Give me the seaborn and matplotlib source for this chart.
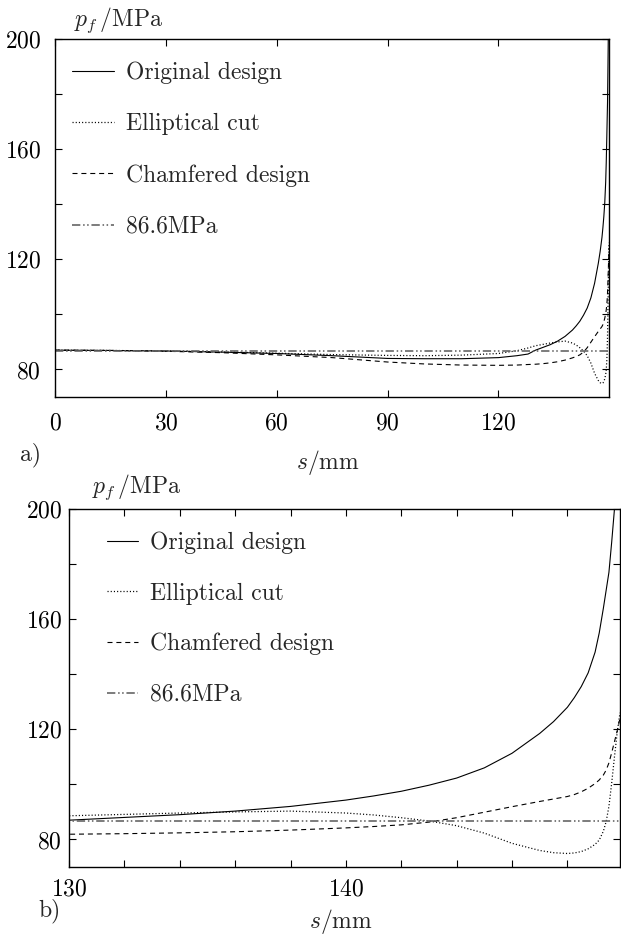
import numpy as np
import matplotlib
matplotlib.use("Agg")
import matplotlib.pyplot as plt
from matplotlib.ticker import MultipleLocator, FixedLocator
import seaborn as sns

# Arc length along the fillet surface (mm)
s_mm = [0, 15, 30, 45, 60, 75, 90, 100, 110, 120, 125, 128, 130, 132, 134, 136,
        138, 140, 141, 142, 143, 144, 145, 146, 147, 147.5, 148, 148.25, 148.5,
        148.75, 149, 149.15, 149.3, 149.4, 149.5, 149.6, 149.7, 149.8, 149.9]

# Fatigue pressure p_f (MPa) for each geometry
original_design = [87.0, 86.9, 86.7, 86.3, 85.8, 85.0, 84.0, 83.9, 83.9, 84.3, 85.0,
                   85.6, 87.0, 88.0, 89.0, 90.3, 92.0, 94.3, 95.8, 97.5, 99.7,
                   102.3, 106.0, 111.3, 118.5, 122.8, 128.0, 131.5, 135.5,
                   140.5, 148.0, 155.0, 164.0, 170.5, 177.0, 188.0, 200.0, 214.0, 230.0]
elliptical_cut = [87.0, 86.9, 86.7, 86.4, 85.9, 85.4, 85.1, 85.0, 85.2, 85.8, 86.8,
                  87.8, 88.6, 89.1, 89.6, 90.0, 90.3, 89.6, 88.9, 87.9, 86.7,
                  85.0, 82.3, 78.6, 76.0, 75.2, 74.9, 75.1, 75.6,
                  76.6, 78.2, 79.8, 83.0, 86.5, 92.0, 100.5, 110.0, 119.0, 126.0]
chamfered_design = [87.0, 86.9, 86.6, 86.1, 85.3, 84.3, 82.7, 82.0, 81.6, 81.5, 81.6,
                    81.8, 81.9, 82.1, 82.4, 82.8, 83.4, 84.2, 84.7, 85.3, 86.3,
                    87.9, 89.9, 91.9, 93.8, 94.7, 95.6, 96.3, 97.3,
                    98.6, 100.3, 101.6, 103.4, 105.2, 107.8, 111.5, 115.5, 119.5, 124.0]
reference_level = 86.6

series_labels = ["Original design", "Elliptical cut", "Chamfered design", "86.6MPa"]
y_major = [80, 120, 160, 200]
y_minor = [100, 140, 180]

sns.set_theme(style="ticks")
plt.rcParams.update({
    "font.family": ["cmr10", "DejaVu Serif"],
    "mathtext.fontset": "cm",
    "axes.formatter.use_mathtext": True,
    "lines.scale_dashes": False,
    "font.size": 17,
    "axes.linewidth": 1.0,
    "axes.edgecolor": "black",
    "xtick.color": "black",
    "ytick.color": "black",
})

W, H = 621, 938
fig = plt.figure(figsize=(W / 100, H / 100), dpi=100)


def frac_box(left, top, right, bottom):
    return [left / W, 1 - bottom / H, (right - left) / W, (bottom - top) / H]


ax_a = fig.add_axes(frac_box(55, 39, 609, 397))
ax_b = fig.add_axes(frac_box(69, 509, 620, 867))

styles = {
    "orig": dict(color="black", linestyle="-", linewidth=0.8),
    "ell": dict(color="black", linestyle=(0, (0.8, 1.5)), linewidth=0.9),
    "cham": dict(color="black", linestyle=(0, (3.6, 2.8)), linewidth=0.8),
    "ref": dict(color="#666666", linestyle=(0, (6.0, 2.0, 1.1, 1.8, 1.1, 2.0)), linewidth=1.2),
}

s_arr = np.array(s_mm)
for ax in (ax_a, ax_b):
    sns.lineplot(x=s_arr, y=original_design, ax=ax, estimator=None, sort=False,
                 label=series_labels[0], **styles["orig"])
    sns.lineplot(x=s_arr, y=elliptical_cut, ax=ax, estimator=None, sort=False,
                 label=series_labels[1], **styles["ell"])
    sns.lineplot(x=s_arr, y=chamfered_design, ax=ax, estimator=None, sort=False,
                 label=series_labels[2], **styles["cham"])
    sns.lineplot(x=[0, 150], y=[reference_level, reference_level], ax=ax,
                 estimator=None, sort=False, label=series_labels[3], **styles["ref"])

    ax.set_ylim(70, 200)
    ax.yaxis.set_major_locator(FixedLocator(y_major))
    ax.yaxis.set_minor_locator(FixedLocator(y_minor))
    ax.tick_params(which="both", direction="in", length=5, width=0.8,
                   top=True, right=True, labelsize=17)
    ax.set_xlabel("")
    ax.set_ylabel("")
    for sp in ax.spines.values():
        sp.set_linewidth(1.0)

# Panel a: full length
ax_a.set_xlim(0, 149.9)
ax_a.xaxis.set_major_locator(MultipleLocator(30))
ax_a.tick_params(axis="y", pad=10)
ax_a.tick_params(axis="x", pad=11)

# Panel b: close-up of the last 20 mm
ax_b.set_xlim(130, 149.9)
ax_b.xaxis.set_major_locator(MultipleLocator(10))
ax_b.xaxis.set_minor_locator(MultipleLocator(2))
ax_b.tick_params(axis="y", pad=5)
ax_b.tick_params(axis="x", pad=8)

legend_kw = dict(frameon=False, loc="upper left", fontsize=17, handletextpad=0.5,
                 borderaxespad=0, borderpad=0)
h, l = ax_a.get_legend_handles_labels()
ax_a.legend(h, l, bbox_to_anchor=(0.03, 0.937), handlelength=1.8,
            labelspacing=1.23, **legend_kw)
h, l = ax_b.get_legend_handles_labels()
ax_b.legend(h, l, bbox_to_anchor=(0.069, 0.937), handlelength=1.3,
            labelspacing=1.2, **legend_kw)

# Axis titles and panel tags
fig.text(74 / W, 1 - 26 / H, r"$p_f\,$/MPa", fontsize=17, va="baseline", ha="left")
fig.text(92 / W, 1 - 493 / H, r"$p_f\,$/MPa", fontsize=17, va="baseline", ha="left")
fig.text(328 / W, 1 - 462 / H, r"$s$/mm", fontsize=17, va="center", ha="center")
fig.text(341 / W, 1 - 921 / H, r"$s$/mm", fontsize=17, va="center", ha="center")
fig.text(20 / W, 1 - 455 / H, "a)", fontsize=17, va="center", ha="left")
fig.text(38 / W, 1 - 911 / H, "b)", fontsize=17, va="center", ha="left")

fig.savefig("out.png", dpi=100)
